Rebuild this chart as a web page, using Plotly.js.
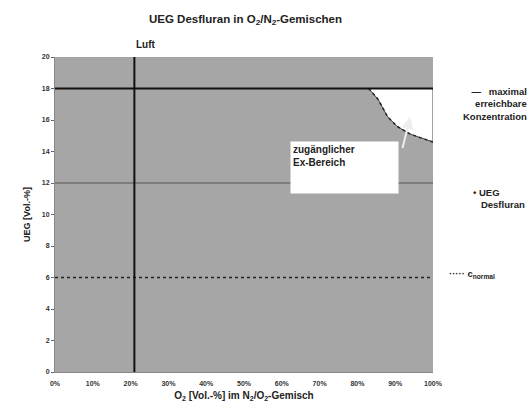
<!DOCTYPE html>
<html>
<head>
<meta charset="utf-8">
<script src="https://cdn.plot.ly/plotly-3.0.1.min.js"></script>
<style>html,body{margin:0;padding:0;background:#fff;}#chart{width:528px;height:414px;}</style>
</head>
<body>
<div id="chart"></div>
<script>
// ---- data ----
const xTickVals = [0, 10, 20, 30, 40, 50, 60, 70, 80, 90, 100];
const xTickText = ['0%', '10%', '20%', '30%', '40%', '50%', '60%', '70%', '80%', '90%', '100%'];
const yTickVals = [0, 2, 4, 6, 8, 10, 12, 14, 16, 18, 20];
const yTickText = ['0', '2', '4', '6', '8', '10', '12', '14', '16', '18', '20'];
const uegO2 = [83, 85.5, 88, 90.5, 94, 100];          // O2 [Vol.-%]
const uegDesfluran = [18, 17.3, 16.2, 15.6, 15.1, 14.6]; // UEG [Vol.-%]
const maxConc = 18;    // maximal erreichbare Konzentration
const cNormal = 6;     // c normal
const luftO2 = 21;     // Luft
const gridY = [12];

const font = 'Liberation Sans, Arial, sans-serif';
const bold = s => '<b>' + s + '</b>';

// polygon of accessible Ex-range (between UEG curve and max concentration)
const exX = uegO2.concat([100, uegO2[0]]);
const exY = uegDesfluran.concat([maxConc, maxConc]);

const traces = [
  { x: exX, y: exY, type: 'scatter', mode: 'lines', fill: 'toself',
    fillcolor: '#ffffff', line: { color: '#444', width: 1 }, hoverinfo: 'skip', showlegend: false },
  { x: uegO2, y: uegDesfluran, type: 'scatter', mode: 'lines',
    line: { color: '#222', width: 1.5, dash: 'dot' }, showlegend: false },
  { x: [0, 100], y: [maxConc, maxConc], type: 'scatter', mode: 'lines',
    line: { color: '#111', width: 2 }, showlegend: false },
  { x: [0, 100], y: [cNormal, cNormal], type: 'scatter', mode: 'lines',
    line: { color: '#222', width: 1.5, dash: 'dot' }, showlegend: false },
  { x: [luftO2, luftO2], y: [0, 20], type: 'scatter', mode: 'lines',
    line: { color: '#111', width: 2 }, showlegend: false }
];

const shapes = gridY.map(v => ({ type: 'line', xref: 'x', yref: 'y', x0: 0, x1: 100, y0: v, y1: v,
  line: { color: '#555', width: 1 }, layer: 'below' }));

const annotations = [
  { text: '<b>Luft</b>', x: luftO2, y: 20, xref: 'x', yref: 'y', xanchor: 'left', yanchor: 'bottom',
    xshift: 0, yshift: 5, showarrow: false, font: { family: font, size: 10, color: '#222' } },
  { text: '<b>zugänglicher<br>Ex-Bereich</b><br> ', x: 62.3, y: 14.65, xref: 'x', yref: 'y',
    xanchor: 'left', yanchor: 'top', align: 'left', showarrow: false, bgcolor: '#ffffff',
    width: 103, height: 47, valign: 'top', borderpad: 2,
    font: { family: font, size: 10, color: '#222' } },
  { text: ' ', x: 94, y: 16.2, ax: 91.8, ay: 14.1, xref: 'x', yref: 'y', axref: 'x', ayref: 'y',
    showarrow: true, arrowhead: 2, arrowsize: 1.2, arrowwidth: 2, arrowcolor: '#eee',
    font: { size: 1 } },
  { text: '<b>—   maximal<br>erreichbare<br>Konzentration</b>', x: 1.0, y: 18.3, xref: 'paper', yref: 'y',
    xanchor: 'right', yanchor: 'top', align: 'right', showarrow: false, xshift: 96,
    font: { family: font, size: 9.5, color: '#222' } },
  { text: '<b>• UEG<br>   Desfluran</b>', x: 1.0, y: 11.9, xref: 'paper', yref: 'y',
    xanchor: 'right', yanchor: 'top', align: 'left', showarrow: false, xshift: 94,
    font: { family: font, size: 9.5, color: '#222' } },
  { text: '<b>····· c<sub>normal</sub></b>', x: 1.0, y: cNormal + 0.2, xref: 'paper', yref: 'y',
    xanchor: 'left', yanchor: 'middle', align: 'left', showarrow: false, xshift: 14,
    font: { family: font, size: 9.5, color: '#222' } }
];

const layout = {
  width: 528, height: 414,
  margin: { l: 55, r: 95, t: 57, b: 42 },
  paper_bgcolor: '#ffffff', plot_bgcolor: '#a6a6a6',
  title: { text: '<b>UEG Desfluran in O<sub>2</sub>/N<sub>2</sub>-Gemischen</b>', x: 0.465, xanchor: 'center',
    y: 0.955, yanchor: 'middle', font: { family: font, size: 11.5, color: '#222' } },
  xaxis: { range: [0, 100], tickvals: xTickVals, ticktext: xTickText.map(bold), showgrid: false, zeroline: false,
    ticks: 'outside', ticklen: 5, tickcolor: '#fff', showline: true, linecolor: '#888',
    tickfont: { family: font, size: 7, color: '#333' },
    title: { text: '<b>O<sub>2</sub> [Vol.-%] im N<sub>2</sub>/O<sub>2</sub>-Gemisch</b>', standoff: 5,
      font: { family: font, size: 10, color: '#222' } } },
  yaxis: { range: [0, 20], tickvals: yTickVals, ticktext: yTickText.map(bold), showgrid: false, zeroline: false,
    ticks: 'outside', ticklen: 3, tickcolor: '#666', showline: true, linecolor: '#888',
    tickfont: { family: font, size: 7, color: '#333' },
    title: { text: '<b>UEG [Vol.-%]</b>', standoff: 9, font: { family: font, size: 9, color: '#222' } } },
  shapes: shapes,
  annotations: annotations,
  showlegend: false
};

Plotly.newPlot('chart', traces, layout, { displayModeBar: false, staticPlot: true });
</script>
</body>
</html>
